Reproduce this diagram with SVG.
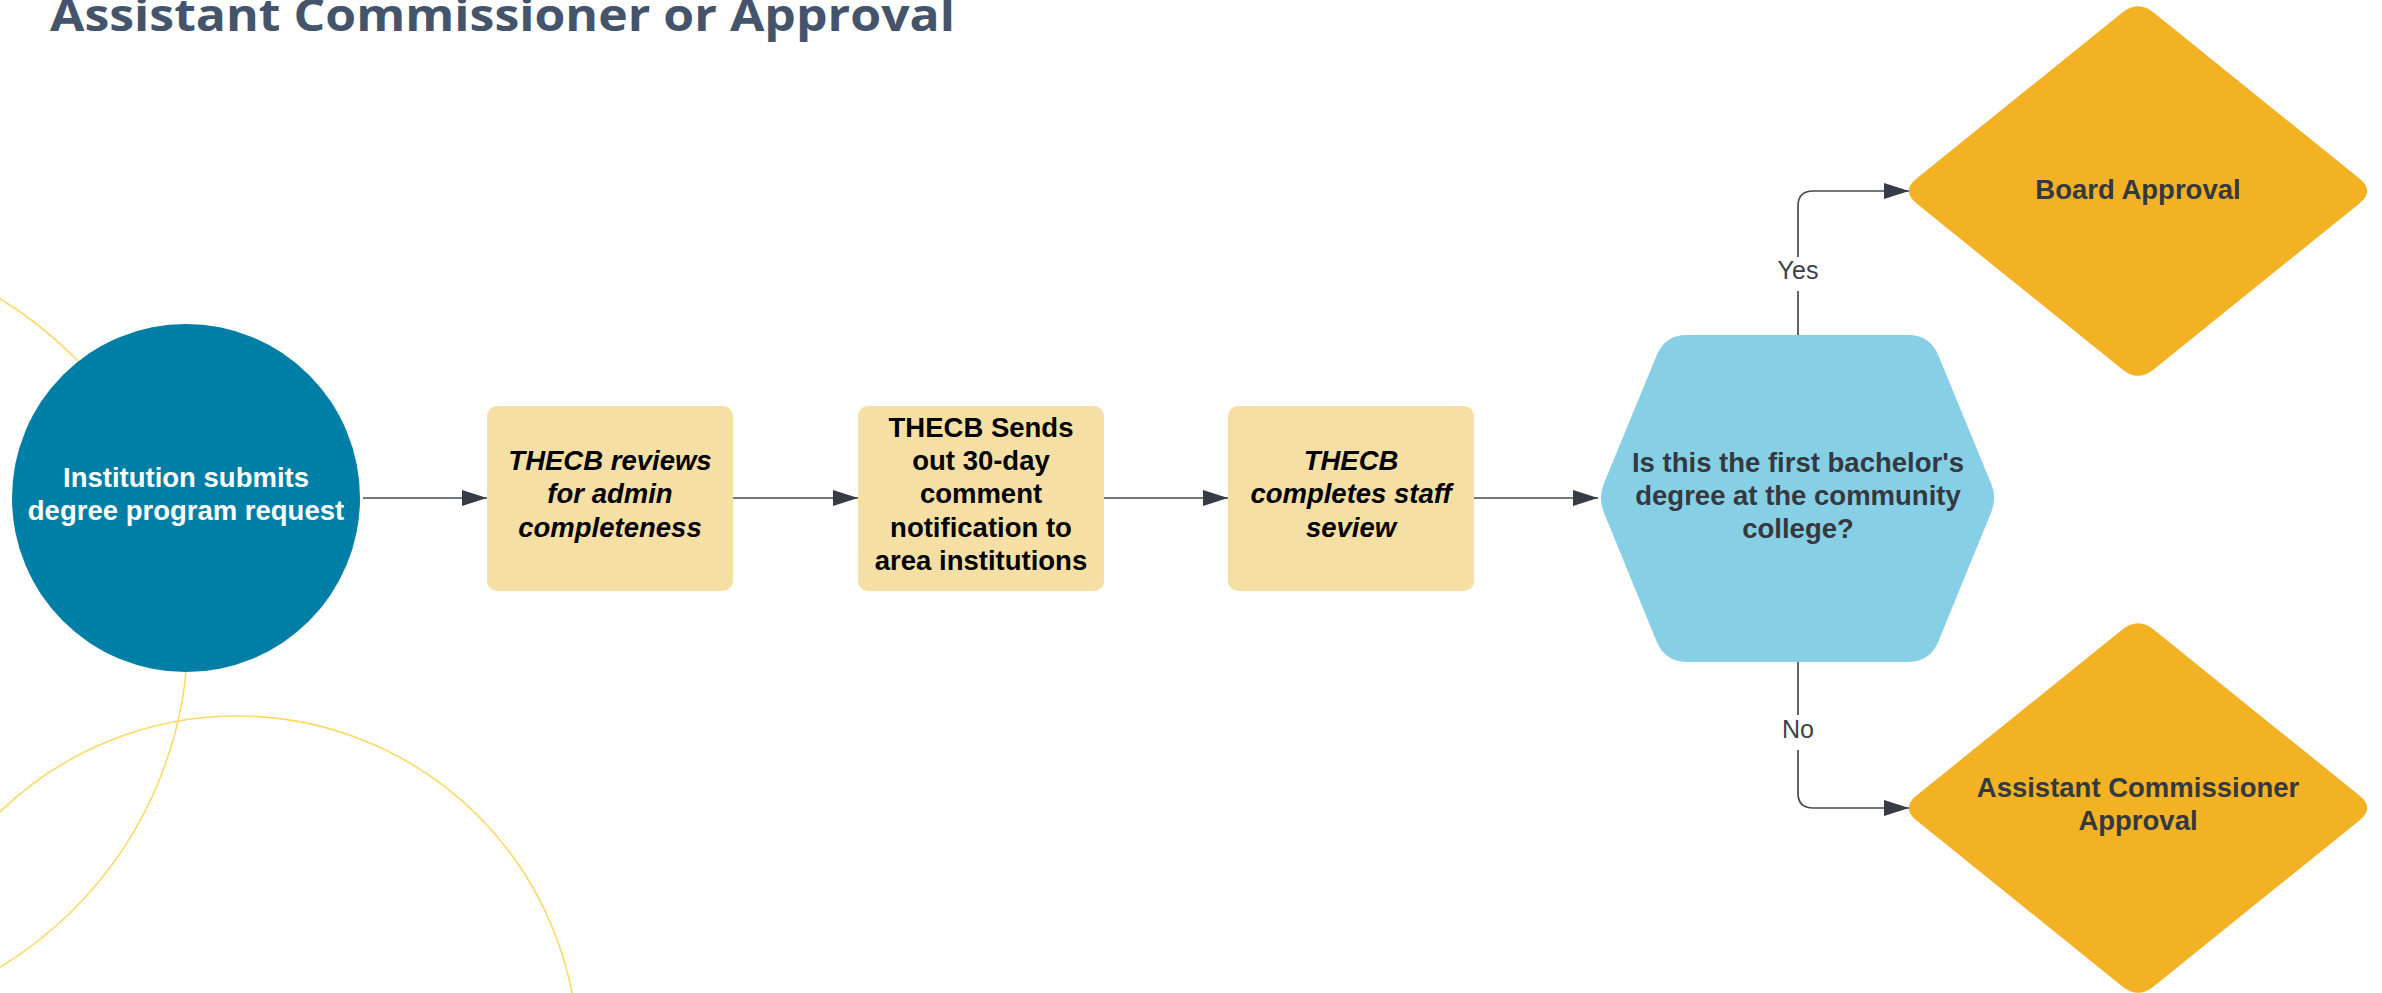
<svg xmlns="http://www.w3.org/2000/svg" width="2382" height="993" viewBox="0 0 2382 993">
  <style>
    .lbl { font-family: "Liberation Sans", Arial, sans-serif; font-size: 27.5px; font-weight: bold; text-anchor: middle; }
    .dark { fill: #333940; }
    .blk { fill: #000000; }
    .it { font-style: italic; }
    .box { fill: #f5dfa4; }
    .dia { fill: #f3b124; }
    .conn { fill: none; stroke: #444a53; stroke-width: 1.7; }
    .edge { font-family: "Liberation Sans", Arial, sans-serif; font-size: 25px; fill: #3a414a; text-anchor: middle; }
    .deco { fill: none; stroke: #ffd966; stroke-width: 1.6; }
  </style>
  <defs>
    <marker id="arr" markerUnits="userSpaceOnUse" viewBox="0 0 25 16" refX="25" refY="8" markerWidth="25" markerHeight="16" orient="auto">
      <path d="M0,0 L25,8 L0,16 Z" fill="#363b44"/>
    </marker>
    <path id="diamond" d="M-15.6,12.6 Q0,0 15.6,12.6 L221.4,178.4 Q237,191 221.4,203.6 L15.6,369.4 Q0,382 -15.6,369.4 L-221.4,203.6 Q-237,191 -221.4,178.4 Z"/>
  </defs>
  <rect width="2382" height="993" fill="#ffffff"/>

  <g id="decoration">
    <circle class="deco" cx="-203" cy="633" r="391"/>
    <circle class="deco" cx="237" cy="1057" r="341"/>
  </g>

  <text id="title" x="50" y="31" font-family="'Open Sans', 'Noto Sans', sans-serif" font-weight="700" font-size="45" fill="#44546a" textLength="905" lengthAdjust="spacingAndGlyphs">Assistant Commissioner or Approval</text>

  <g id="connectors">
    <path class="conn" d="M363,498 H487" marker-end="url(#arr)"/>
    <path class="conn" d="M733,498 H858" marker-end="url(#arr)"/>
    <path class="conn" d="M1104,498 H1228" marker-end="url(#arr)"/>
    <path class="conn" d="M1474,498 H1598" marker-end="url(#arr)"/>
    <path class="conn" d="M1798,335 V291 M1798,257 V206 Q1798,191 1813,191 H1909" marker-end="url(#arr)"/>
    <text class="edge" x="1798" y="279">Yes</text>
    <path class="conn" d="M1798,662 V715 M1798,750 V793 Q1798,808 1813,808 H1909" marker-end="url(#arr)"/>
    <text class="edge" x="1798" y="738">No</text>
  </g>

  <g id="start">
    <circle cx="186" cy="498" r="174" fill="#007fa6"/>
    <text class="lbl" fill="#ffffff" x="186" y="487">Institution submits</text>
    <text class="lbl" fill="#ffffff" x="186" y="520">degree program request</text>
  </g>

  <g id="review">
    <rect class="box" x="487" y="406" width="246" height="185" rx="10"/>
    <text class="lbl blk it" x="610" y="470">THECB reviews</text>
    <text class="lbl blk it" x="610" y="503">for admin</text>
    <text class="lbl blk it" x="610" y="537">completeness</text>
  </g>

  <g id="notify">
    <rect class="box" x="858" y="406" width="246" height="185" rx="10"/>
    <text class="lbl blk" x="981" y="437">THECB Sends</text>
    <text class="lbl blk" x="981" y="470">out 30-day</text>
    <text class="lbl blk" x="981" y="503">comment</text>
    <text class="lbl blk" x="981" y="537">notification to</text>
    <text class="lbl blk" x="981" y="570">area institutions</text>
  </g>

  <g id="staff-review">
    <rect class="box" x="1228" y="406" width="246" height="185" rx="10"/>
    <text class="lbl blk it" x="1351" y="470">THECB</text>
    <text class="lbl blk it" x="1351" y="503">completes staff</text>
    <text class="lbl blk it" x="1351" y="537">seview</text>
  </g>

  <g id="decision">
    <path fill="#87cfe5" d="M1603.7,484.1 L1656.6,355.4 Q1665,335 1687,335 L1908,335 Q1930,335 1938.4,355.4 L1991.3,484.1 Q1997,498 1991.3,511.9 L1938.4,641.6 Q1930,662 1908,662 L1687,662 Q1665,662 1656.6,641.6 L1603.7,511.9 Q1598,498 1603.7,484.1 Z"/>
    <text class="lbl dark" x="1798" y="472">Is this the first bachelor's</text>
    <text class="lbl dark" x="1798" y="505">degree at the community</text>
    <text class="lbl dark" x="1798" y="538">college?</text>
  </g>

  <g id="board-approval">
    <use href="#diamond" class="dia" transform="translate(2138,0)"/>
    <text class="lbl dark" x="2138" y="199">Board Approval</text>
  </g>

  <g id="ac-approval">
    <use href="#diamond" class="dia" transform="translate(2138,617)"/>
    <text class="lbl dark" x="2138" y="797">Assistant Commissioner</text>
    <text class="lbl dark" x="2138" y="830">Approval</text>
  </g>
</svg>
